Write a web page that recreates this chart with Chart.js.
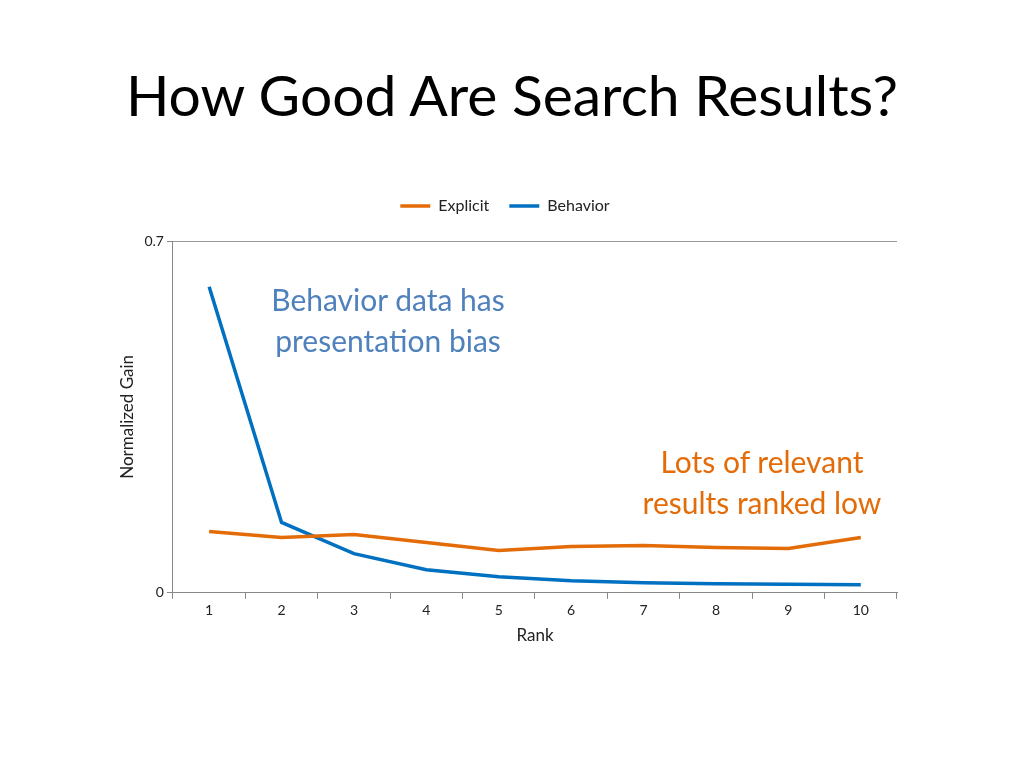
<!DOCTYPE html>
<html lang="en">
<head>
<meta charset="UTF-8">
<title>How Good Are Search Results?</title>
<style>
    body { margin: 0; background: #fff; font-family: Lato, "Open Sans", sans-serif; }
    .title { position: absolute; left: 0; width: 1024px; top: 60px; text-align: center; font-size: 57px; color: #000; }
    .wrap { position: absolute; left: 0; top: 178px; width: 1024px; height: 482px; }
    .note { position: absolute; font-size: 30px; text-align: center; line-height: 41px; }
</style>
<script src="https://cdn.jsdelivr.net/npm/chart.js"></script>
</head>
<body>
<div class="title">How Good Are Search Results?</div>
<div class="wrap"><canvas id="chart"></canvas></div>
<div class="note" style="left:238px; top:279px; width:300px; color:#4f81bd;">Behavior data has<br>presentation bias</div>
<div class="note" style="left:612px; top:441px; width:300px; color:#e36c09;">Lots of relevant<br>results ranked low</div>
<script>
const ranks = ['1','2','3','4','5','6','7','8','9','10'];
const explicit = [0.122, 0.110, 0.116, 0.100, 0.084, 0.092, 0.094, 0.090, 0.088, 0.110];
const behavior = [0.609, 0.140, 0.078, 0.046, 0.032, 0.024, 0.020, 0.018, 0.017, 0.016];
const yTicks = [0, 0.7];

const font = { family: 'Lato, "Open Sans", sans-serif', size: 14 };

// extra room under the legend
const legendGap = {
    id: 'legendGap',
    beforeInit(chart) {
        const fit = chart.legend.fit;
        chart.legend.fit = function() {
            fit.bind(chart.legend)();
            this.height += 17;
        };
    }
};

new Chart(document.getElementById('chart'), {
    type: 'line',
    data: {
        labels: ranks,
        datasets: [
            { label: 'Explicit', data: explicit, borderColor: '#e36c09', backgroundColor: '#e36c09', borderWidth: 3.5, pointRadius: 0, tension: 0 },
            { label: 'Behavior', data: behavior, borderColor: '#0070c0', backgroundColor: '#0070c0', borderWidth: 3.5, pointRadius: 0, tension: 0 }
        ]
    },
    options: {
        responsive: true,
        maintainAspectRatio: false,
        animation: false,
        layout: { padding: { left: 113, right: 127, top: 0, bottom: 10 } },
        plugins: {
            legend: {
                position: 'top',
                labels: { usePointStyle: true, pointStyle: 'line', pointStyleWidth: 30, color: '#222', font: { ...font, size: 16 }, padding: 20 }
            },
            tooltip: { enabled: false }
        },
        scales: {
            x: {
                offset: true,
                grid: { offset: true, drawOnChartArea: false, color: '#888', tickLength: 6 },
                border: { color: '#888' },
                ticks: { color: '#222', font: font },
                title: { display: true, text: 'Rank', color: '#222', font: { ...font, size: 17 } }
            },
            y: {
                min: 0, max: 0.7,
                afterBuildTicks: axis => { axis.ticks = yTicks.map(v => ({ value: v })); },
                grid: { color: ctx => ctx.tick && ctx.tick.value === 0.7 ? '#999' : 'rgba(0,0,0,0)', tickLength: 6, tickColor: '#888' },
                border: { color: '#888' },
                ticks: { color: '#222', font: font },
                title: { display: true, text: 'Normalized Gain', color: '#222', font: { ...font, size: 17 } }
            }
        }
    },
    plugins: [legendGap]
});
</script>
</body>
</html>
